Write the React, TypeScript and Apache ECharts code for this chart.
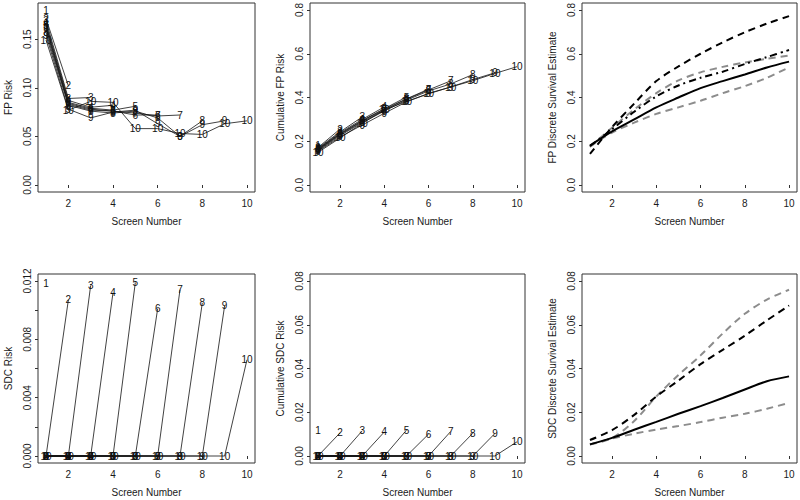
import React, { useEffect, useRef } from "react";
import * as echarts from "echarts";

const screens = [1, 2, 3, 4, 5, 6, 7, 8, 9, 10];
const xTicks = [2, 4, 6, 8, 10];

// Panel 1: FP risk per screen, series k runs over screens 1..k
const fpRisk: number[][] = [
  [0.180],
  [0.171, 0.102],
  [0.169, 0.089, 0.090],
  [0.166, 0.087, 0.080, 0.082],
  [0.164, 0.085, 0.079, 0.077, 0.081],
  [0.162, 0.084, 0.078, 0.076, 0.072, 0.072],
  [0.160, 0.083, 0.077, 0.076, 0.074, 0.071, 0.072],
  [0.157, 0.082, 0.076, 0.074, 0.076, 0.069, 0.050, 0.066],
  [0.154, 0.078, 0.069, 0.075, 0.077, 0.063, 0.050, 0.062, 0.066],
  [0.149, 0.077, 0.086, 0.085, 0.058, 0.058, 0.053, 0.052, 0.063, 0.066],
];

// Panel 2: cumulative FP risk
const cumFpRisk: number[][] = [
  [0.180],
  [0.171, 0.256],
  [0.169, 0.243, 0.311],
  [0.166, 0.239, 0.300, 0.357],
  [0.164, 0.235, 0.295, 0.349, 0.402],
  [0.162, 0.233, 0.293, 0.347, 0.394, 0.438],
  [0.160, 0.230, 0.289, 0.343, 0.392, 0.435, 0.476],
  [0.157, 0.226, 0.285, 0.338, 0.388, 0.430, 0.462, 0.505],
  [0.154, 0.220, 0.274, 0.328, 0.380, 0.419, 0.448, 0.482, 0.513],
  [0.149, 0.215, 0.282, 0.343, 0.382, 0.417, 0.448, 0.477, 0.510, 0.541],
];

// Panel 3: FP discrete survival estimates
const fpSurvSolid = [0.180, 0.245, 0.300, 0.355, 0.400, 0.443, 0.475, 0.505, 0.537, 0.564];
const fpSurvDash = [0.142, 0.265, 0.372, 0.475, 0.542, 0.600, 0.652, 0.698, 0.738, 0.772];
const fpSurvDotDash = [0.178, 0.255, 0.335, 0.405, 0.455, 0.490, 0.518, 0.553, 0.585, 0.617];
const fpSurvGrayUpper = [0.175, 0.262, 0.345, 0.420, 0.478, 0.515, 0.540, 0.560, 0.577, 0.592];
const fpSurvGrayLower = [0.175, 0.240, 0.285, 0.325, 0.355, 0.385, 0.420, 0.452, 0.490, 0.538];

// Panel 4: SDC risk
const sdcRisk: number[][] = [
  [0.0118],
  [0, 0.0107],
  [0, 0, 0.0117],
  [0, 0, 0, 0.0112],
  [0, 0, 0, 0, 0.0119],
  [0, 0, 0, 0, 0, 0.0101],
  [0, 0, 0, 0, 0, 0, 0.0114],
  [0, 0, 0, 0, 0, 0, 0, 0.0105],
  [0, 0, 0, 0, 0, 0, 0, 0, 0.0103],
  [0, 0, 0, 0, 0, 0, 0, 0, 0, 0.0066],
];

// Panel 5: cumulative SDC risk
const cumSdcRisk: number[][] = [
  [0.0116],
  [0, 0.0106],
  [0, 0, 0.0115],
  [0, 0, 0, 0.0110],
  [0, 0, 0, 0, 0.0118],
  [0, 0, 0, 0, 0, 0.0100],
  [0, 0, 0, 0, 0, 0, 0.0112],
  [0, 0, 0, 0, 0, 0, 0, 0.0104],
  [0, 0, 0, 0, 0, 0, 0, 0, 0.0103],
  [0, 0, 0, 0, 0, 0, 0, 0, 0, 0.0065],
];

// Panel 6: SDC discrete survival estimates
const sdcSurvSolid = [0.0053, 0.0083, 0.0120, 0.0156, 0.0193, 0.0228, 0.0265, 0.0304, 0.0342, 0.0364];
const sdcSurvDash = [0.0073, 0.0118, 0.0188, 0.0272, 0.0345, 0.0420, 0.0485, 0.0550, 0.0620, 0.0688];
const sdcSurvGrayUpper = [0.0053, 0.0082, 0.0160, 0.0272, 0.0370, 0.0460, 0.0560, 0.0650, 0.0715, 0.0760];
const sdcSurvGrayLower = [0.0053, 0.0080, 0.0102, 0.0121, 0.0137, 0.0155, 0.0175, 0.0193, 0.0216, 0.0243];

const FONT = "Liberation Sans";
const INK = "#1a1a1a";
const BOX = "#333";
const GRAY = "#8c8c8c";

const grids = [
  { left: 38, top: 3, width: 217, height: 189 },
  { left: 310, top: 3, width: 215, height: 189 },
  { left: 582, top: 3, width: 215, height: 189 },
  { left: 38, top: 274, width: 217, height: 189 },
  { left: 310, top: 274, width: 215, height: 189 },
  { left: 582, top: 274, width: 215, height: 189 },
];

const yDefs = [
  { name: "FP Risk", min: -0.0072, max: 0.1872, ticks: [0, 0.05, 0.1, 0.15], labels: [0, 0.05, 0.1, 0.15], dec: 2 },
  { name: "Cumulative FP Risk", min: -0.032, max: 0.832, ticks: [0, 0.2, 0.4, 0.6, 0.8], labels: [0, 0.2, 0.4, 0.6, 0.8], dec: 1 },
  { name: "FP Discrete Survival Estimate", min: -0.032, max: 0.832, ticks: [0, 0.2, 0.4, 0.6, 0.8], labels: [0, 0.2, 0.4, 0.6, 0.8], dec: 1 },
  { name: "SDC Risk", min: -0.00048, max: 0.01248, ticks: [0, 0.002, 0.004, 0.006, 0.008, 0.01, 0.012], labels: [0, 0.004, 0.008, 0.012], dec: 3 },
  { name: "Cumulative SDC Risk", min: -0.0032, max: 0.0832, ticks: [0, 0.02, 0.04, 0.06, 0.08], labels: [0, 0.02, 0.04, 0.06, 0.08], dec: 2 },
  { name: "SDC Discrete Survival Estimate", min: -0.0032, max: 0.0832, ticks: [0, 0.02, 0.04, 0.06, 0.08], labels: [0, 0.02, 0.04, 0.06, 0.08], dec: 2 },
];

function labeledSeries(sets: number[][], axis: number) {
  return sets.map((vals, idx) => ({
    type: "line",
    xAxisIndex: axis,
    yAxisIndex: axis,
    silent: true,
    color: "#111",
    data: vals.map((v, i) => [screens[i], v]),
    symbol: "circle",
    symbolSize: 1,
    itemStyle: { color: "rgba(0,0,0,0)", borderWidth: 0 },
    lineStyle: { color: "#111", width: 0.8 },
    label: {
      show: true,
      position: "inside",
      formatter: String(idx + 1),
      fontFamily: FONT,
      fontSize: 10,
      color: "#111",
      textBorderWidth: 0,
      textBorderColor: "transparent",
    },
    emphasis: { disabled: true },
  }));
}

function curve(vals: number[], axis: number, color: string, type: any) {
  return {
    type: "line",
    xAxisIndex: axis,
    yAxisIndex: axis,
    silent: true,
    color,
    data: vals.map((v, i) => [screens[i], v]),
    symbol: "none",
    smooth: 0.3,
    lineStyle: { color, width: 2, type },
    emphasis: { disabled: true },
  };
}

export default function App() {
  const ref = useRef<HTMLDivElement>(null);

  useEffect(() => {
    if (!ref.current) return;
    const chart = echarts.init(ref.current, undefined, { renderer: "svg" });

    const xAxis = grids.map((_, i) => ({
      type: "value",
      gridIndex: i,
      min: 0.64,
      max: 10.36,
      axisLine: { show: false },
      splitLine: { show: false },
      axisTick: { show: true, length: 3, customValues: xTicks, lineStyle: { color: BOX } },
      axisLabel: {
        customValues: xTicks,
        fontFamily: FONT,
        fontSize: 10,
        color: INK,
        margin: 6,
        formatter: (v: number) => String(v),
      },
      name: "Screen Number",
      nameLocation: "middle",
      nameGap: 24,
      nameTextStyle: { fontFamily: FONT, fontSize: 10, color: INK },
    }));

    const yAxis = yDefs.map((d, i) => ({
      type: "value",
      gridIndex: i,
      min: d.min,
      max: d.max,
      axisLine: { show: false },
      splitLine: { show: false },
      axisTick: { show: true, length: 3, customValues: d.ticks, lineStyle: { color: BOX } },
      axisLabel: {
        customValues: d.labels,
        rotate: 90,
        fontFamily: FONT,
        fontSize: 10,
        color: INK,
        margin: 6,
        formatter: (v: number) => v.toFixed(d.dec),
      },
      name: d.name,
      nameLocation: "middle",
      nameRotate: 90,
      nameGap: 25,
      nameTextStyle: { fontFamily: FONT, fontSize: 10, color: INK },
    }));

    const series: any[] = [
      ...labeledSeries(fpRisk, 0),
      ...labeledSeries(cumFpRisk, 1),
      curve(fpSurvGrayUpper, 2, GRAY, [7, 5]),
      curve(fpSurvGrayLower, 2, GRAY, [7, 5]),
      curve(fpSurvDotDash, 2, "#000", [7, 4, 2, 4]),
      curve(fpSurvDash, 2, "#000", [7, 5]),
      curve(fpSurvSolid, 2, "#000", "solid"),
      ...labeledSeries(sdcRisk, 3),
      ...labeledSeries(cumSdcRisk, 4),
      curve(sdcSurvGrayUpper, 5, GRAY, [7, 5]),
      curve(sdcSurvGrayLower, 5, GRAY, [7, 5]),
      curve(sdcSurvDash, 5, "#000", [7, 5]),
      curve(sdcSurvSolid, 5, "#000", "solid"),
    ];

    chart.setOption({
      animation: false,
      backgroundColor: "#fff",
      textStyle: { fontFamily: FONT },
      grid: grids.map((g) => ({
        ...g,
        show: true,
        borderColor: BOX,
        borderWidth: 1,
        backgroundColor: "transparent",
        containLabel: false,
        outerBoundsMode: "none",
      })),
      xAxis,
      yAxis,
      series,
    });

    return () => chart.dispose();
  }, []);

  return (
    <div
      ref={ref}
      style={{ position: "absolute", left: 0, top: 0, width: 800, height: 500, background: "#fff" }}
    />
  );
}
